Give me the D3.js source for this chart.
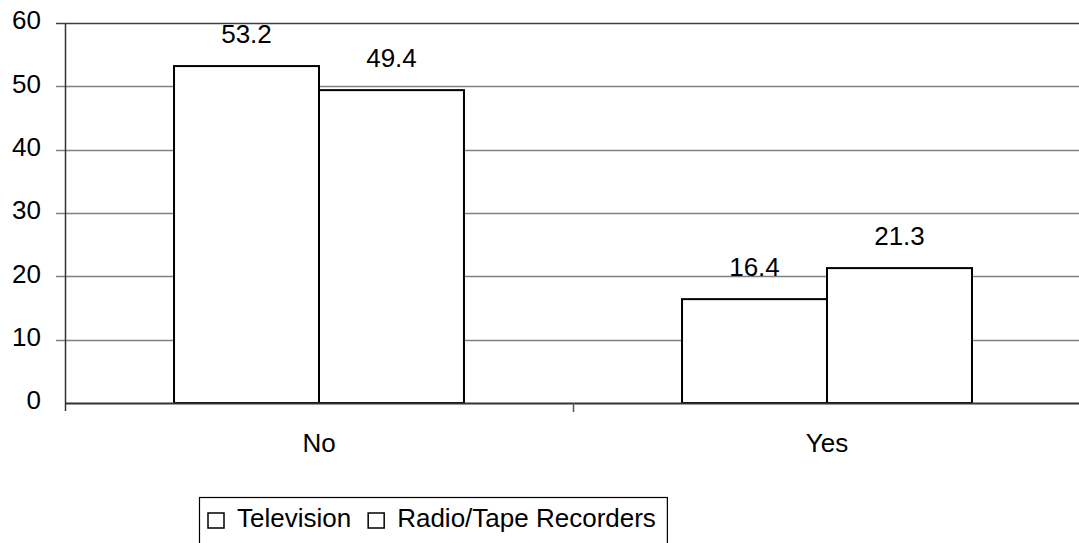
<!DOCTYPE html>
<html>
<head>
<meta charset="utf-8">
<script src="https://cdn.jsdelivr.net/npm/d3@7"></script>
<style>
  html, body { margin: 0; padding: 0; background: #fff; }
  svg { display: block; font-family: "Liberation Sans", Arial, sans-serif; }
</style>
</head>
<body>
<svg id="chart" width="1079" height="543"></svg>
<script>
// Answer categories along the x axis
const categories = ["No", "Yes"];
// Media types shown as the two bars in each group
const seriesNames = ["Television", "Radio/Tape Recorders"];
// Percent values per series, in category order
const television = [53.2, 16.4];
const radioTape = [49.4, 21.3];
// Value axis ticks
const yTicks = [0, 10, 20, 30, 40, 50, 60];

const seriesValues = [television, radioTape];
const rows = categories.map((c, i) => ({
  category: c,
  values: seriesNames.map((s, j) => ({ series: s, value: seriesValues[j][i] }))
}));

const svg = d3.select("#chart");
const plot = { left: 65, right: 1081, top: 23, bottom: 403 };
const fontSize = 26;

const x0 = d3.scaleBand().domain(categories).range([plot.left, plot.right]).padding(0);
const x1 = d3.scaleBand().domain(seriesNames).range([0, x0.bandwidth()]).paddingInner(0).paddingOuter(0.752);
const y = d3.scaleLinear().domain([0, 60]).range([plot.bottom, plot.top]);

// Horizontal gridlines (they also form the left tick marks)
svg.append("g")
  .selectAll("line")
  .data(yTicks.filter(t => t > 0))
  .join("line")
  .attr("x1", plot.left - 9)
  .attr("x2", 1079)
  .attr("y1", d => Math.round(y(d)) + 0.5)
  .attr("y2", d => Math.round(y(d)) + 0.5)
  .attr("stroke", d => d === 60 ? "#404040" : "#808080")
  .attr("stroke-width", 1.3);

// Y axis labels
const yAxis = d3.axisLeft(y).tickValues(yTicks).tickSize(0).tickPadding(0);
const gy = svg.append("g").attr("transform", `translate(${plot.left - 24},0)`).call(yAxis);
gy.select(".domain").remove();
gy.selectAll("text")
  .attr("font-size", fontSize)
  .attr("fill", "#000")
  .attr("font-family", "Liberation Sans, Arial, sans-serif")
  .attr("dy", "0.22em");

// Bars
const groups = svg.append("g")
  .selectAll("g")
  .data(rows)
  .join("g")
  .attr("transform", d => `translate(${x0(d.category)},0)`);

groups.selectAll("rect")
  .data(d => d.values)
  .join("rect")
  .attr("x", d => x1(d.series))
  .attr("y", d => y(d.value))
  .attr("width", x1.bandwidth())
  .attr("height", d => y(0) - y(d.value))
  .attr("fill", "#fff")
  .attr("stroke", "#000")
  .attr("stroke-width", 2);

// Value labels above bars
groups.selectAll("text.val")
  .data(d => d.values)
  .join("text")
  .attr("class", "val")
  .attr("x", d => x1(d.series) + x1.bandwidth() / 2)
  .attr("y", d => y(d.value) - 23)
  .attr("text-anchor", "middle")
  .attr("font-size", fontSize)
  .attr("fill", "#000")
  .text(d => d.value.toFixed(1));

// Left axis line
svg.append("line")
  .attr("x1", plot.left + 0.5).attr("x2", plot.left + 0.5)
  .attr("y1", plot.top).attr("y2", plot.bottom + 8)
  .attr("stroke", "#333").attr("stroke-width", 1.5);

// Category axis
const xAxis = d3.axisBottom(x0).tickSize(0).tickPadding(0);
const gx = svg.append("g").attr("transform", `translate(0,${plot.bottom})`).call(xAxis);
gx.select(".domain").remove();
gx.selectAll("text")
  .attr("font-size", fontSize)
  .attr("fill", "#000")
  .attr("font-family", "Liberation Sans, Arial, sans-serif")
  .attr("dy", 0)
  .attr("y", 49);

svg.append("line")
  .attr("x1", plot.left).attr("x2", 1079)
  .attr("y1", plot.bottom + 0.5).attr("y2", plot.bottom + 0.5)
  .attr("stroke", "#333").attr("stroke-width", 1.8);

// Category boundary ticks
svg.append("g")
  .selectAll("line")
  .data(categories.slice(1))
  .join("line")
  .attr("x1", d => x0(d) + 0.5).attr("x2", d => x0(d) + 0.5)
  .attr("y1", plot.bottom).attr("y2", plot.bottom + 9)
  .attr("stroke", "#555").attr("stroke-width", 1.5);

// Legend
const legend = svg.append("g").attr("transform", "translate(199,497)");
const items = legend.append("g");
let cx = 9;
seriesNames.forEach(name => {
  const it = items.append("g").attr("transform", `translate(${cx},0)`);
  it.append("rect")
    .attr("x", 0).attr("y", 16).attr("width", 16).attr("height", 15)
    .attr("fill", "#fff").attr("stroke", "#000").attr("stroke-width", 1.5);
  const t = it.append("text")
    .attr("x", 29).attr("y", 30)
    .attr("font-size", fontSize)
    .attr("fill", "#000")
    .text(name);
  cx += 29 + t.node().getComputedTextLength() + 17;
});
const boxWidth = cx - 6;
legend.insert("rect", ":first-child")
  .attr("x", 0.5).attr("y", 0.5)
  .attr("width", boxWidth).attr("height", 60)
  .attr("fill", "#fff").attr("stroke", "#000").attr("stroke-width", 1.2);
</script>
</body>
</html>
